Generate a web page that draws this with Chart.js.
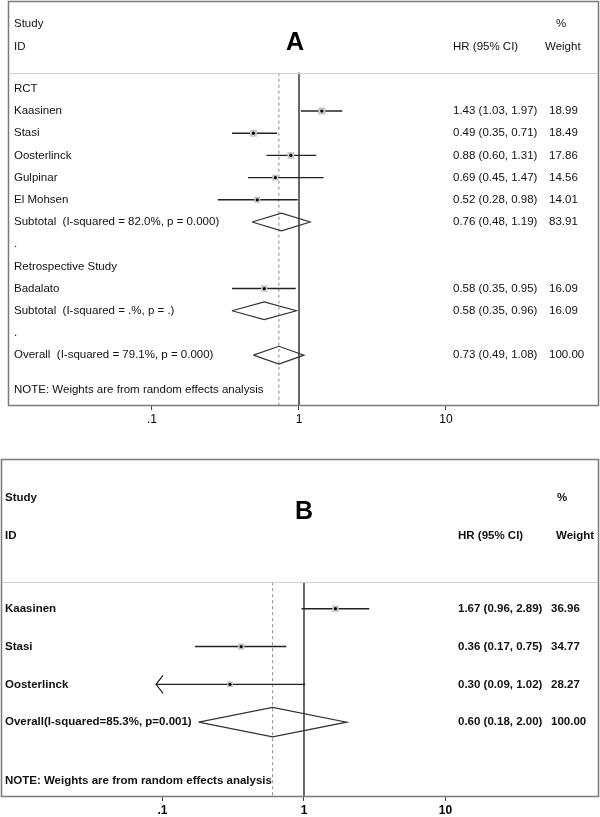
<!DOCTYPE html>
<html lang="en">
<head>
<meta charset="UTF-8">
<title>Forest plots A and B</title>
<script src="https://cdn.jsdelivr.net/npm/chart.js"></script>
<style>
    html, body { margin: 0; padding: 0; background: #fff; overflow: hidden; }
    .panel { position: absolute; left: 0; width: 600px; }
    #wrapA { top: 0; height: 445px; }
    #wrapB { top: 445px; height: 372px; }
</style>
</head>
<body>
<div class="panel" id="wrapA"><canvas id="chartA"></canvas></div>
<div class="panel" id="wrapB"><canvas id="chartB"></canvas></div>
<script>
// ---- data, panel A ----
const labelsA = ['RCT', 'Kaasinen', 'Stasi', 'Oosterlinck', 'Gulpinar', 'El Mohsen',
    'Subtotal  (I-squared = 82.0%, p = 0.000)', '.', 'Retrospective Study', 'Badalato',
    'Subtotal  (I-squared = .%, p = .)', '.', 'Overall  (I-squared = 79.1%, p = 0.000)'];
const kindA   = ['head', 'study', 'study', 'study', 'study', 'study', 'pool', 'gap', 'head', 'study', 'pool', 'gap', 'pool'];
const hrA     = [null, 1.43, 0.49, 0.88, 0.69, 0.52, 0.76, null, null, 0.58, 0.58, null, 0.73];
const lowA    = [null, 1.03, 0.35, 0.60, 0.45, 0.28, 0.48, null, null, 0.35, 0.35, null, 0.49];
const highA   = [null, 1.97, 0.71, 1.31, 1.47, 0.98, 1.19, null, null, 0.95, 0.96, null, 1.08];
const weightA = [null, 18.99, 18.49, 17.86, 14.56, 14.01, 83.91, null, null, 16.09, 16.09, null, 100.00];

// ---- data, panel B ----
const labelsB = ['Kaasinen', 'Stasi', 'Oosterlinck', 'Overall(I-squared=85.3%, p=0.001)'];
const kindB   = ['study', 'study', 'study', 'pool'];
const hrB     = [1.67, 0.36, 0.30, 0.60];
const lowB    = [0.96, 0.17, 0.09, 0.18];
const highB   = [2.89, 0.75, 1.02, 2.00];
const weightB = [36.96, 34.77, 28.27, 100.00];

// ---- axis ----
const tickVals = [0.1, 1, 10];
const tickText = ['.1', '1', '10'];

Chart.defaults.font.family = "'Liberation Sans', Arial, sans-serif";

const panelA = {
    letter: 'A', labels: labelsA, kind: kindA, hr: hrA, low: lowA, high: highA, weight: weightA,
    font: '11.5px', bold: false, axisH: 24,
    xMin: 0.01048, xMax: 109.9, yMin: -3.955, yMax: 14.29,
    padding: { top: 1, left: 8, right: 1, bottom: 15 },
    rows: { study: -2.92, id: -1.905, letter: -2.05, sep: -0.725, note: 13.54 },
    cols: { name: 14, hr: 453, w: 549, wHead: 545, pct: 556, letter: 295 },
    boxScale: 1.15, diamondHalf: 0.4
};

const panelB = {
    letter: 'B', labels: labelsB, kind: kindB, hr: hrB, low: lowB, high: highB, weight: weightB,
    font: 'bold 11.5px', bold: true, axisH: 20,
    xMin: 0.00722, xMax: 121.6, yMin: -3.96, yMax: 4.98,
    padding: { top: 14, left: 1, right: 1, bottom: 0 },
    rows: { study: -2.93, id: -1.94, letter: -2.55, sep: -0.70, note: 4.56 },
    cols: { name: 5, hr: 458, w: 551, wHead: 556, pct: 557, letter: 304 },
    boxScale: 0.75, diamondHalf: 0.39
};

function buildDatasets(p) {
    const ds = [];
    const overall = p.kind.lastIndexOf('pool');
    // no-effect line and overall estimate line
    ds.push({ data: [{ x: 1, y: p.rows.sep }, { x: 1, y: p.yMax }], showLine: true,
        borderColor: '#555', borderWidth: 1, pointRadius: 0, order: 5 });
    ds.push({ data: [{ x: p.hr[overall], y: p.rows.sep }, { x: p.hr[overall], y: p.yMax }], showLine: true,
        borderColor: '#8a8a8a', borderWidth: 1, borderDash: [3, 3], pointRadius: 0, order: 5 });

    p.kind.forEach((k, i) => {
        if (k === 'study') {
            ds.push({ data: [{ x: p.low[i], y: i }, { x: p.high[i], y: i }], showLine: true,
                borderColor: '#222', borderWidth: 1.4, pointRadius: 0, order: 4 });
        } else if (k === 'pool') {
            const h = p.diamondHalf;
            ds.push({ data: [{ x: p.low[i], y: i }, { x: p.hr[i], y: i - h }, { x: p.high[i], y: i },
                             { x: p.hr[i], y: i + h }, { x: p.low[i], y: i }],
                showLine: true, borderColor: '#333', borderWidth: 1.2, pointRadius: 0, order: 3 });
        }
    });

    const idx = p.kind.map((k, i) => k === 'study' ? i : -1).filter(i => i >= 0);
    ds.push({ data: idx.map(i => ({ x: p.hr[i], y: i })), pointStyle: 'rect',
        pointRadius: idx.map(i => p.boxScale * Math.sqrt(p.weight[i])),
        backgroundColor: '#c8c8c8', borderWidth: 0, order: 2 });
    ds.push({ data: idx.map(i => ({ x: p.hr[i], y: i })), pointStyle: 'circle', pointRadius: 1.6,
        backgroundColor: '#000', borderWidth: 0, order: 1 });
    return ds;
}

function textPlugin(p) {
    return {
        id: 'forestText' + p.letter,
        afterDraw(chart) {
            const { ctx, chartArea: a, scales: { x, y } } = chart;
            const c = p.cols;
            ctx.save();
            // frame + separator
            ctx.strokeStyle = '#7a7a7a';
            ctx.lineWidth = 1.5;
            ctx.strokeRect(a.left + 0.5, a.top + 0.5, a.right - a.left - 1, a.bottom - a.top - 1);
            ctx.strokeStyle = '#cfcfcf';
            ctx.lineWidth = 1;
            const ys = Math.round(y.getPixelForValue(p.rows.sep)) + 0.5;
            ctx.beginPath(); ctx.moveTo(a.left + 1, ys); ctx.lineTo(a.right - 1, ys); ctx.stroke();

            // arrow where the CI runs past the first tick
            ctx.strokeStyle = '#222';
            ctx.lineWidth = 1.2;
            p.kind.forEach((k, i) => {
                if (k === 'study' && p.low[i] < tickVals[0]) {
                    const px = x.getPixelForValue(p.low[i]), py = y.getPixelForValue(i);
                    ctx.beginPath();
                    ctx.moveTo(px + 7, py - 9); ctx.lineTo(px, py); ctx.lineTo(px + 7, py + 9);
                    ctx.stroke();
                }
            });

            // text
            ctx.fillStyle = '#111';
            ctx.textBaseline = 'middle';
            ctx.textAlign = 'left';
            ctx.font = p.font + " 'Liberation Sans', Arial, sans-serif";
            const ty = v => y.getPixelForValue(v);
            ctx.fillText('Study', c.name, ty(p.rows.study));
            ctx.fillText('ID', c.name, ty(p.rows.id));
            ctx.fillText('HR (95% CI)', c.hr, ty(p.rows.id));
            ctx.fillText('%', c.pct, ty(p.rows.study));
            ctx.fillText('Weight', c.wHead, ty(p.rows.id));
            p.labels.forEach((lab, i) => {
                ctx.fillText(lab, c.name, ty(i));
                if (p.hr[i] != null) {
                    ctx.fillText(p.hr[i].toFixed(2) + ' (' + p.low[i].toFixed(2) + ', ' + p.high[i].toFixed(2) + ')', c.hr, ty(i));
                    ctx.fillText(p.weight[i].toFixed(2), c.w, ty(i));
                }
            });
            ctx.fillText('NOTE: Weights are from random effects analysis', c.name, ty(p.rows.note));

            ctx.font = "bold 25px 'Liberation Sans', Arial, sans-serif";
            ctx.textAlign = 'center';
            ctx.fillStyle = '#000';
            ctx.fillText(p.letter, c.letter, ty(p.rows.letter));
            ctx.restore();
        }
    };
}

function makeForest(canvasId, p) {
    return new Chart(document.getElementById(canvasId), {
        type: 'scatter',
        data: { datasets: buildDatasets(p) },
        options: {
            responsive: true,
            maintainAspectRatio: false,
            animation: false,
            events: [],
            layout: { padding: p.padding, autoPadding: false },
            plugins: { legend: { display: false }, tooltip: { enabled: false } },
            scales: {
                x: {
                    type: 'logarithmic', position: 'bottom', min: p.xMin, max: p.xMax,
                    grid: { display: true, drawOnChartArea: false, drawTicks: true, tickLength: 4, color: '#444' },
                    border: { display: false },
                    afterBuildTicks: s => { s.ticks = tickVals.map(v => ({ value: v })); },
                    afterFit: s => { s.height = p.axisH; },
                    ticks: {
                        autoSkip: false, maxRotation: 0, padding: 2, color: '#000',
                        font: { size: 12, weight: p.bold ? 'bold' : 'normal' },
                        callback: v => { const k = tickVals.indexOf(v); return k >= 0 ? tickText[k] : ''; }
                    }
                },
                y: { type: 'linear', display: false, reverse: true, min: p.yMin, max: p.yMax }
            }
        },
        plugins: [textPlugin(p)]
    });
}

makeForest('chartA', panelA);
makeForest('chartB', panelB);
</script>
</body>
</html>
